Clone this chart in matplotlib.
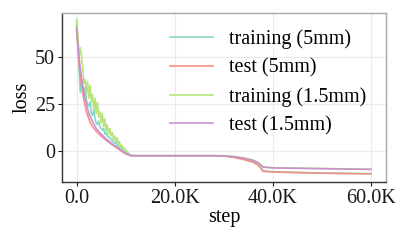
import matplotlib
matplotlib.use("Agg")
import matplotlib.pyplot as plt
from matplotlib.ticker import FuncFormatter

plt.rcParams['font.family'] = ['Liberation Serif', 'DejaVu Serif']

# ---------------- data ----------------
early_steps = [0, 250, 500, 750, 1000, 1250, 1500, 1750, 2000, 2250, 2500, 2750,
               3000, 3250, 3500, 3750, 4000, 4250, 4500, 4750, 5000, 5250, 5500, 5750,
               6000, 6250, 6500, 6750, 7000, 7250, 7500, 7750, 8000, 8250, 8500, 8750,
               9000, 9250, 9500, 9750, 10000, 10250, 10500, 10750, 11000, 11250, 11500,
               11750, 12000]
train5_early = [68, 58, 45, 31, 38, 33, 30, 34, 27, 25, 24, 26,
                20, 19, 22, 17, 15, 14, 16, 13, 12, 11, 12, 9,
                10, 8, 7.5, 7, 6.5, 5.5, 5.0, 4, 4.5, 3, 2.5, 1.5,
                2.5, 0.5, 0.5, -0.5, 0.5, -1.5, -1, -2.2, -2, -2.5, -2.4,
                -2.5, -2.5]
train15_early = [70, 62, 50, 55, 51, 44, 36, 38, 31, 37, 28, 35,
                 26, 30, 22, 28, 20, 26, 18, 21, 15, 20, 13, 17,
                 11, 14, 9, 12, 8, 10, 6, 8, 5, 7, 3, 5,
                 2, 3, 0.5, 1.5, -1, 0, -1.8, -1.5, -2.3, -2.2, -2.5,
                 -2.4, -2.5]

test_early_steps = [0, 250, 500, 750, 1000, 1500, 2000, 2500, 3000, 4000, 5000,
                    6000, 7000, 8000, 9000, 10000, 11000, 12000]
test5_early = [66, 55, 46, 40, 35, 27, 21, 17, 14, 10.5, 8, 5.8, 3.8, 2, 0.2, -1.5, -2.5, -2.6]
test15_early = [65, 57, 50, 44, 39, 31, 25, 20, 17, 12, 9, 6.5, 4.3, 2.4, 0.5, -1.3, -2.4, -2.5]

late_steps = [13000, 20000, 28000, 30000, 32000, 34000, 36000, 37000, 38000,
              40000, 45000, 50000, 55000, 60000]
train5_late = [-2.5, -2.5, -2.5, -2.6, -3.2, -4.3, -5.8, -7.2, -10.5, -11.0, -11.4, -11.7, -11.9, -12.0]
test5_late = [-2.5, -2.5, -2.5, -2.7, -3.4, -4.5, -6.0, -7.5, -10.8, -11.2, -11.5, -11.8, -12.0, -12.2]
train15_late = [-2.5, -2.5, -2.5, -2.5, -2.9, -3.7, -4.9, -6.2, -8.5, -8.9, -9.1, -9.3, -9.5, -9.7]
test15_late = [-2.5, -2.5, -2.5, -2.6, -3.0, -3.8, -5.0, -6.3, -8.6, -9.0, -9.2, -9.4, -9.6, -9.8]

labels = ["training (5mm)", "test (5mm)", "training (1.5mm)", "test (1.5mm)"]
colors = ["#7fd6c3", "#f98b7e", "#b4e277", "#c78bd3"]

# ---------------- plot ----------------
fig = plt.figure(figsize=(4.07, 2.44), dpi=100)
ax = fig.add_axes([0.152, 0.254, 0.796, 0.693])

series = [
    (early_steps + late_steps, train5_early + train5_late),
    (test_early_steps + late_steps, test5_early + test5_late),
    (early_steps + late_steps, train15_early + train15_late),
    (test_early_steps + late_steps, test15_early + test15_late),
]
for (x, y), lab, c in zip(series, labels, colors):
    ax.plot(x, y, color=c, lw=1.2, label=lab, alpha=0.95)

ax.set_xlim(-3000, 63000)
ax.set_ylim(-16.5, 73.5)
ax.set_xticks([0, 20000, 40000, 60000])
ax.set_yticks([0, 25, 50])
ax.xaxis.set_major_formatter(FuncFormatter(lambda v, p: "0.0" if v == 0 else f"{v/1000:.1f}K"))
ax.grid(True, color="#ebebeb", lw=0.8)
ax.set_axisbelow(True)

for s in ["left", "bottom"]:
    ax.spines[s].set_color("#333333")
    ax.spines[s].set_linewidth(1.0)
for s in ["top", "right"]:
    ax.spines[s].set_color("#a8a8a8")
    ax.spines[s].set_linewidth(1.0)

FS = 14.5
ax.tick_params(axis="both", labelsize=FS, colors="#1a1a1a", length=3, width=0.8, pad=2)
ax.set_xlabel("step", fontsize=FS, labelpad=0)
ax.set_ylabel("loss", fontsize=FS, labelpad=2)

leg = ax.legend(frameon=False, fontsize=FS, loc="upper right",
                bbox_to_anchor=(0.964, 0.952), handlelength=2.1, handletextpad=0.8,
                labelspacing=0.47, borderaxespad=0.0)

fig.savefig("out.png", dpi=100)
